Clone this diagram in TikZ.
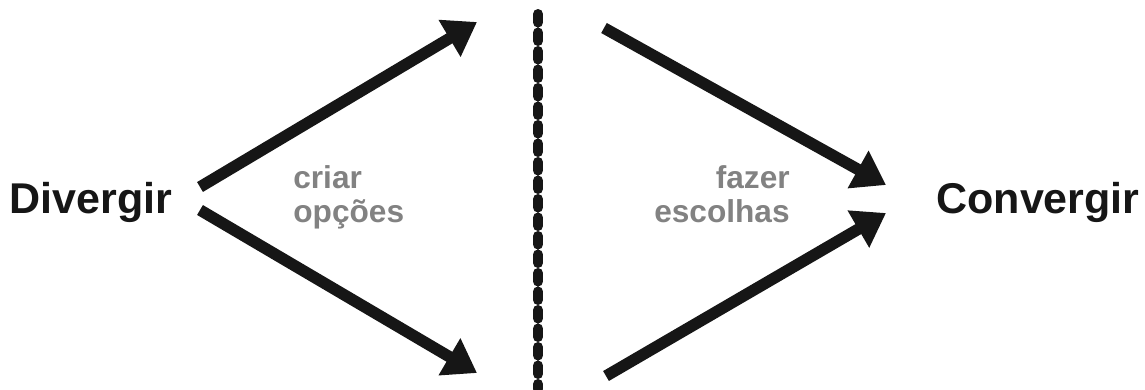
\documentclass[tikz,border=0pt]{standalone}
\usepackage{fontspec}
\setmainfont{Liberation Sans}
\usepackage{xcolor}
\usepackage{tikz}
\usetikzlibrary{arrows.meta,positioning,calc}
\definecolor{inkblack}{RGB}{22,22,22}
\definecolor{hintgray}{RGB}{130,130,130}
\begin{document}
\begin{tikzpicture}[
  big/.style={font=\fontsize{24.5}{28}\selectfont\bfseries,text=inkblack,inner sep=0pt},
  hint/.style={font=\fontsize{18}{19.5}\selectfont\bfseries,text=hintgray,inner sep=0pt},
  arr/.style={-{Triangle[length=0.64cm,width=0.82cm]},line width=0.23cm,draw=inkblack,fill=inkblack},
  divide/.style={draw=inkblack,line width=0.2cm,line cap=round,dash pattern=on 0.17cm off 0.2cm}]
\useasboundingbox (0,0) rectangle (22.9,7.78);
% end points of the four arrows
\coordinate (ul0) at (4.0,4.04);  \coordinate (ul1) at (9.54,7.34);
\coordinate (ll0) at (4.0,3.58);  \coordinate (ll1) at (9.54,0.32);
\coordinate (ur0) at (12.08,7.22); \coordinate (ur1) at (17.72,4.08);
\coordinate (lr0) at (12.12,0.26); \coordinate (lr1) at (17.72,3.52);
\coordinate (top) at (10.76,7.5); \coordinate (bot) at (10.76,0);
\node[big,anchor=base west] (div) at (0.18,3.52) {Divergir};
\node[big,anchor=base east] (conv) at (22.8,3.52) {Convergir};
\node[hint,align=left,anchor=north west] (opt) at (5.86,4.48) {criar\\opções};
\node[hint,align=right,anchor=north east] (pick) at (15.8,4.48) {fazer\\escolhas};
\draw[arr] (ul0) -- (ul1);
\draw[arr] (ll0) -- (ll1);
\draw[arr] (ur0) -- (ur1);
\draw[arr] (lr0) -- (lr1);
\draw[divide] (top) -- (bot);
\end{tikzpicture}
\end{document}
